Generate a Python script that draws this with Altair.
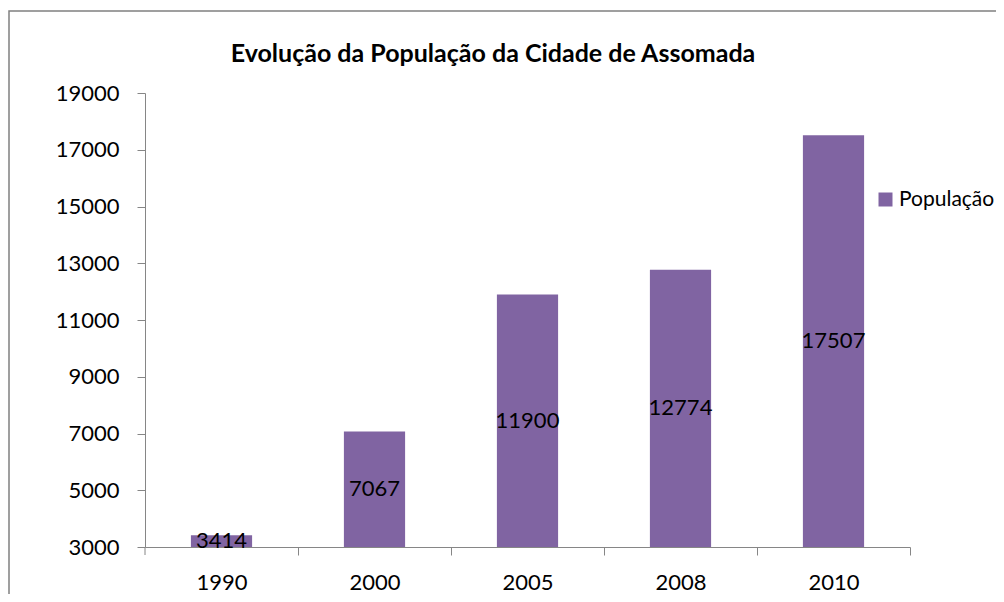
import altair as alt
import pandas as pd

years = ["1990", "2000", "2005", "2008", "2010"]
population = [3414, 7067, 11900, 12774, 17507]
series_name = "População"
title_text = "Evolução da População da Cidade de Assomada"
y_ticks = [3000, 5000, 7000, 9000, 11000, 13000, 15000, 17000, 19000]
y_min, y_max = 3000, 19000

BAR_COLOR = "#8064A2"
AXIS_COLOR = "#868686"
FONT = "Lato"
W, H = 765, 454
STEP = W / 5

df = pd.DataFrame({"ano": years, "pop": population, "serie": series_name})

x_enc = alt.X(
    "ano:N",
    sort=years,
    scale=alt.Scale(paddingInner=0.6, paddingOuter=0.3),
    axis=alt.Axis(
        title=None,
        labelAngle=0,
        bandPosition=1,
        tickOffset=0.3 * STEP,
        labelOffset=-0.3 * STEP,
        tickSize=8,
        labelPadding=17,
        domainColor=AXIS_COLOR,
        tickColor=AXIS_COLOR,
    ),
)
y_enc = alt.Y(
    "pop:Q",
    scale=alt.Scale(domain=[y_min, y_max], nice=False, zero=False),
    axis=alt.Axis(
        title=None,
        values=y_ticks,
        format="d",
        grid=False,
        tickSize=8,
        labelPadding=18,
        domainColor=AXIS_COLOR,
        tickColor=AXIS_COLOR,
    ),
)

base = alt.Chart(df)

bars = base.mark_bar().encode(
    x=x_enc,
    y=y_enc,
    y2=alt.datum(y_min),
    color=alt.Color(
        "serie:N",
        scale=alt.Scale(range=[BAR_COLOR]),
        legend=alt.Legend(
            title=None,
            orient="none",
            legendX=730,
            legendY=96,
            padding=0,
            symbolType="square",
            symbolSize=196,
            symbolStrokeWidth=0,
            labelFont=FONT,
            labelFontSize=21,
            labelColor="black",
            labelOffset=3,
        ),
    ),
)

labels = base.transform_calculate(
    mid=f"(datum.pop + {y_min}) / 2"
).mark_text(font=FONT, fontSize=22, color="black", baseline="middle").encode(
    x=alt.X("ano:N", sort=years),
    y=alt.Y("mid:Q"),
    text=alt.Text("pop:Q", format="d"),
)

title = alt.Chart(alt.Data(values=[{"t": title_text}])).mark_text(
    font=FONT, fontSize=25, fontWeight="bold", color="black", baseline="middle"
).encode(x=alt.value(348), y=alt.value(-39), text="t:N")

frame = alt.Chart(alt.Data(values=[{"f": 1}])).mark_rect(
    fillOpacity=0, stroke="#808080", strokeWidth=1.5
).encode(x=alt.value(-136), x2=alt.value(900), y=alt.value(-82), y2=alt.value(560))

left_tick = alt.Chart(alt.Data(values=[{"f": 1}])).mark_rule(
    color=AXIS_COLOR, strokeWidth=1
).encode(x=alt.value(0), y=alt.value(H), y2=alt.value(H + 8))

chart = alt.layer(frame, bars, labels, title, left_tick).properties(
    width=W,
    height=H,
    autosize=alt.AutoSizeParams(type="none"),
    padding={"left": 137, "top": 85, "right": 86, "bottom": 47},
).configure_view(stroke=None).configure_axis(
    labelFont=FONT, labelFontSize=22, labelColor="black"
)

chart.save("out.html", embed_options={"renderer": "svg", "actions": False})
